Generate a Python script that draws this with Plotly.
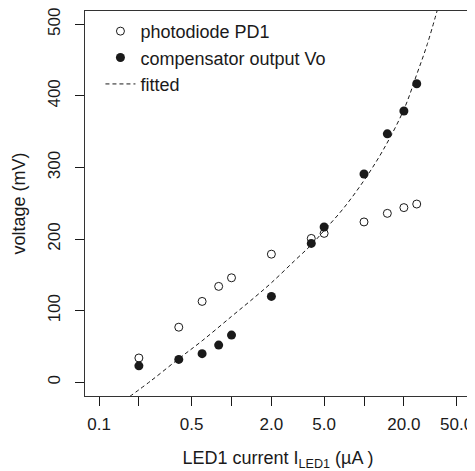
import plotly.graph_objects as go

# LED1 current (uA)
current = [0.2, 0.4, 0.6, 0.8, 1, 2, 4, 5, 10, 15, 20, 25]
# photodiode PD1 voltage (mV)
pd1 = [34, 77, 113, 134, 146, 179, 201, 208, 224, 236, 244, 249]
# compensator output Vo (mV)
vo = [23, 32, 40, 52, 66, 120, 194, 217, 291, 347, 379, 417]
# fitted curve
fit_current = [0.17, 0.25, 0.4, 0.6, 1, 1.5, 2, 3, 4, 5, 7, 10, 14, 20, 25, 30, 36]
fit_v = [-20, 3, 33, 58, 92, 119, 139, 170, 192, 212, 243, 282, 325, 381, 430, 472, 522]

x_tickvals = [0.1, 0.2, 0.5, 1, 2, 5, 10, 20, 50]
x_ticktext = ["0.1", " ", "0.5", " ", "2.0", "5.0", " ", "20.0", "50.0"]
y_tickvals = [0, 100, 200, 300, 400, 500]

FONT = "Liberation Sans, Arial, sans-serif"
INK = "#1a1a1a"

fig = go.Figure()
fig.add_trace(go.Scatter(
    x=current, y=pd1, mode="markers", name="photodiode PD1",
    marker=dict(symbol="circle-open", size=8, color=INK, line=dict(width=1, color=INK)),
))
fig.add_trace(go.Scatter(
    x=current, y=vo, mode="markers", name="compensator output Vo",
    marker=dict(symbol="circle", size=9, color=INK, line=dict(width=0)),
))
fig.add_trace(go.Scatter(
    x=fit_current, y=fit_v, mode="lines", name="fitted",
    line=dict(color=INK, width=1, dash="4px,3px", shape="spline"),
))

# the page body adds an 8px offset; the figure is sized to fill the rest of the window
fig.update_layout(
    width=467, height=463,
    margin=dict(l=77, r=4, t=3, b=75),
    paper_bgcolor="white", plot_bgcolor="white",
    font=dict(family=FONT, size=18, color=INK),
    showlegend=True,
    legend=dict(
        x=0.04, y=0.995, xanchor="left", yanchor="top",
        bgcolor="rgba(0,0,0,0)", borderwidth=0,
        font=dict(size=18, color=INK), tracegroupgap=0,
    ),
)
fig.update_xaxes(
    type="log", range=[-1.1057, 1.8075], automargin=False,
    tickvals=x_tickvals, ticktext=x_ticktext, ticklabeloverflow="allow",
    ticks="outside", ticklen=9, tickwidth=1, tickcolor=INK,
    showline=True, mirror=True, linecolor="#333", linewidth=1,
    showgrid=False, zeroline=False,
    tickfont=dict(size=17, color=INK), ticklabelstandoff=4,
    title=dict(text="LED1 current I<sub>LED1</sub> (µA )", font=dict(size=18, color=INK), standoff=18),
)
fig.update_yaxes(
    range=[-19.1, 518.6], automargin=False, ticklabeloverflow="allow",
    tickvals=y_tickvals, ticks="outside", ticklen=9, tickwidth=1, tickcolor=INK,
    tickangle=-90,
    showline=True, mirror=True, linecolor="#333", linewidth=1,
    showgrid=False, zeroline=False,
    tickfont=dict(size=17, color=INK), ticklabelstandoff=8,
    title=dict(text="voltage (mV)", font=dict(size=18, color=INK), standoff=14),
)

fig.write_html("out.html")
